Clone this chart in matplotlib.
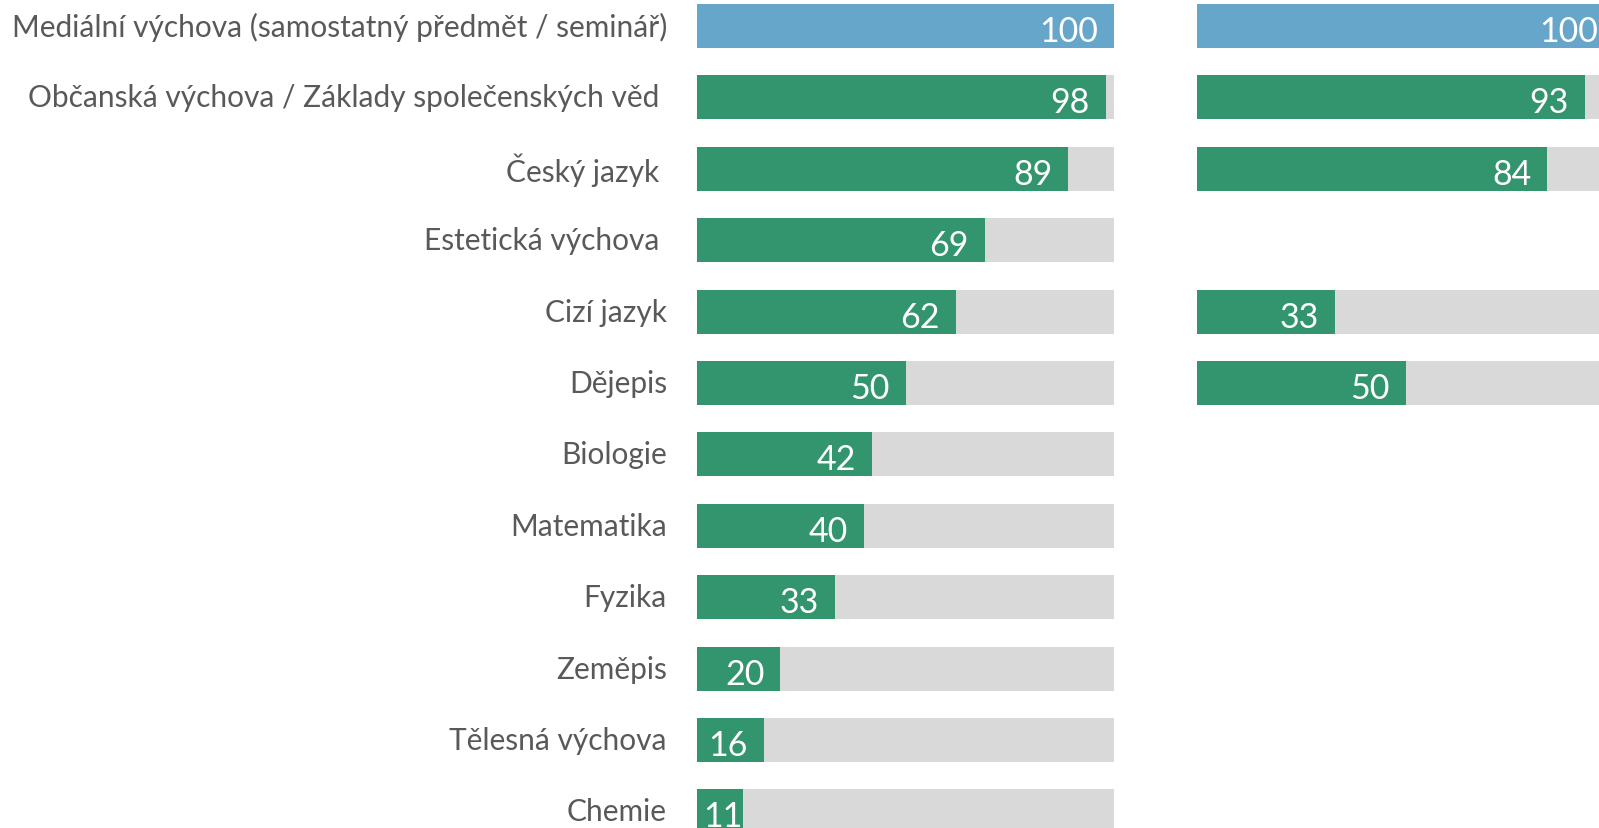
import matplotlib.pyplot as plt
import numpy as np

categories = [
    "Mediální výchova (samostatný předmět / seminář)",
    "Občanská výchova / Základy společenských věd ",
    "Český jazyk ",
    "Estetická výchova ",
    "Cizí jazyk",
    "Dějepis",
    "Biologie",
    "Matematika",
    "Fyzika",
    "Zeměpis",
    "Tělesná výchova",
    "Chemie",
]
left_values = [100, 98, 89, 69, 62, 50, 42, 40, 33, 20, 16, 11]
right_values = [100, 93, 84, None, 33, 50, None, None, None, None, None, None]

BLUE = "#67A6CB"
GREEN = "#33956E"
GREY = "#D9D9D9"
TEXT = "#595959"

plt.rcParams['font.family'] = ['Lato', 'DejaVu Sans']

fig = plt.figure(figsize=(15.99, 8.29), dpi=100)

# panel positions in figure fraction (right one runs past the edge)
ax_l = fig.add_axes([697 / 1599, 0, 417 / 1599, 1])
ax_r = fig.add_axes([1197 / 1599, 0, 417 / 1599, 1])

bar_h = 0.616


def draw_panel(ax, values):
    for i, v in enumerate(values):
        if v is None:
            continue
        color = BLUE if i == 0 else GREEN
        ax.barh(i, 100, height=bar_h, color=GREY, zorder=1)
        ax.barh(i, v, height=bar_h, color=color, zorder=2)
        x = max(v - 3.8, 10.8)
        ax.text(x, i + 0.07, str(v), ha="right", va="center", color="white",
                fontsize=24.5, zorder=3)
    ax.set_xlim(0, 100)
    ax.set_ylim(11.232, -0.378)
    ax.axis("off")


draw_panel(ax_l, left_values)
draw_panel(ax_r, right_values)

for i, c in enumerate(categories):
    ax_l.text(-7.2, i, c, ha="right", va="center", color=TEXT, fontsize=21.5)

fig.savefig("out.png", dpi=100)
